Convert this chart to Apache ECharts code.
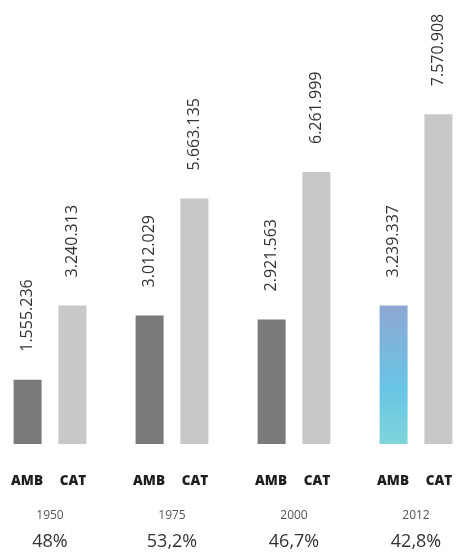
<!DOCTYPE html>
<html>
<head>
<meta charset="utf-8">
<script src="https://cdn.jsdelivr.net/npm/echarts@6/dist/echarts.min.js"></script>
<style>html,body{margin:0;padding:0;background:#fff;}#c{width:456px;height:558px;}</style>
</head>
<body>
<div id="c"></div>
<script>
const years = ['1950', '1975', '2000', '2012'];
const groupNames = ['AMB', 'CAT'];
const ambValues = [1555236, 3012029, 2921563, 3239337];
const catValues = [3240313, 5663135, 6261999, 7570908];
const shares = ['48%', '53,2%', '46,7%', '42,8%'];

function fmt(v) {
  return String(v).replace(/\B(?=(\d{3})+(?!\d))/g, '.');
}

const FONT = "'Open Sans', 'Noto Sans', sans-serif";
const gradient = new echarts.graphic.LinearGradient(0, 0, 0, 1, [
  { offset: 0, color: '#8ea7d3' },
  { offset: 0.6, color: '#68c5e5' },
  { offset: 1, color: '#7ed6da' }
]);

const ambData = ambValues.map((v, i) => i === ambValues.length - 1
  ? { value: v, itemStyle: { color: gradient } }
  : v);

const labelCfg = {
  show: true,
  position: 'top',
  rotate: 90,
  align: 'left',
  verticalAlign: 'middle',
  distance: 28,
  color: '#333',
  fontSize: 16,
  fontFamily: FONT,
  formatter: p => fmt(p.value)
};

function hiddenAxis(extra) {
  return Object.assign({
    type: 'category',
    data: years,
    position: 'bottom',
    offset: 0,
    boundaryGap: false,
    axisLine: { show: false },
    axisTick: { show: false },
    splitLine: { show: false }
  }, extra);
}

const chart = echarts.init(document.getElementById('c'));
chart.setOption({
  animation: false,
  grid: { left: 50, right: 40, top: 7, bottom: 114, outerBoundsMode: 'none', containLabel: false },
  xAxis: [
    hiddenAxis({
      axisLabel: {
        interval: 0, margin: 29,
        formatter: () => '{a|' + groupNames[0] + '}{a|' + groupNames[1] + '}',
        rich: { a: { width: 46, align: 'center', fontSize: 13.5, fontWeight: 900, color: '#1e1e1e', fontFamily: FONT, lineHeight: 16 } }
      }
    }),
    hiddenAxis({
      axisLabel: {
        interval: 0, margin: 65, fontSize: 12, color: '#555', fontFamily: FONT, lineHeight: 14,
        formatter: (v, i) => years[i]
      }
    }),
    hiddenAxis({
      axisLabel: {
        interval: 0, margin: 88, fontSize: 18, color: '#333', fontFamily: FONT, lineHeight: 20,
        formatter: (v, i) => shares[i]
      }
    })
  ],
  yAxis: {
    type: 'value', min: 100000, max: 10000000, show: false, splitLine: { show: false }
  },
  series: [
    { name: groupNames[0], type: 'bar', xAxisIndex: 0, data: ambData, barWidth: 28, barGap: '60%',
      itemStyle: { color: '#7b7979' }, label: labelCfg },
    { name: groupNames[1], type: 'bar', xAxisIndex: 0, data: catValues, barWidth: 28, barGap: '60%',
      itemStyle: { color: '#c8c8c8' }, label: labelCfg }
  ]
});
</script>
</body>
</html>
